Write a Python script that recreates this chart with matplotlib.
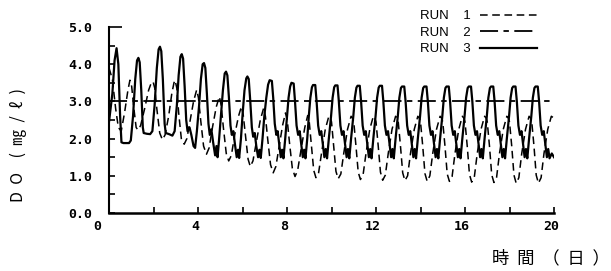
import matplotlib
matplotlib.use("Agg")
import matplotlib.pyplot as plt
from matplotlib.transforms import ScaledTranslation

# ---------------- data ----------------
run1_t = [0.0, 0.15, 0.3, 0.42, 0.55, 0.7, 0.85, 0.94, 1.02, 1.12, 1.22, 1.3, 1.42, 1.6, 1.78, 1.9, 1.98,
          2.06, 2.15, 2.28, 2.4, 2.52, 2.68, 2.82, 2.92, 2.97, 3.05, 3.13, 3.25, 3.38, 3.5, 3.65, 3.8, 3.94,
          4.02, 4.12, 4.25, 4.38, 4.5, 4.65, 4.82, 4.96, 5.04, 5.14, 5.27, 5.38, 5.5, 5.65, 5.82, 5.95,
          6.03, 6.13, 6.25, 6.35, 6.47, 6.62, 6.8, 6.95, 7.03, 7.13, 7.26, 7.38, 7.5, 7.65, 7.8, 7.93,
          8.01, 8.11, 8.24, 8.36, 8.48, 8.63, 8.8, 8.93,
          9.0, 9.1, 9.2, 9.3, 9.42, 9.55, 9.72, 9.88, 9.95,
          10.0, 10.1, 10.2, 10.3, 10.42, 10.55, 10.72, 10.88, 10.95,
          11.0, 11.1, 11.2, 11.3, 11.42, 11.55, 11.72, 11.88, 11.95,
          12.0, 12.1, 12.2, 12.3, 12.42, 12.55, 12.72, 12.88, 12.95,
          13.0, 13.1, 13.2, 13.3, 13.42, 13.55, 13.72, 13.88, 13.95,
          14.0, 14.1, 14.2, 14.3, 14.42, 14.55, 14.72, 14.88, 14.95,
          15.0, 15.1, 15.2, 15.3, 15.42, 15.55, 15.72, 15.88, 15.95,
          16.0, 16.1, 16.2, 16.3, 16.42, 16.55, 16.72, 16.88, 16.95,
          17.0, 17.1, 17.2, 17.3, 17.42, 17.55, 17.72, 17.88, 17.95,
          18.0, 18.1, 18.2, 18.3, 18.42, 18.55, 18.72, 18.88, 18.95,
          19.0, 19.1, 19.2, 19.3, 19.42, 19.55, 19.72, 19.88, 20.0]
run1_v = [3.9, 3.6, 2.8, 2.3, 2.2, 2.7, 3.3, 3.57, 3.4, 2.8, 2.3, 2.23, 2.35, 2.8, 3.3, 3.5, 3.53,
          3.35, 2.8, 2.15, 1.97, 2.1, 2.6, 3.2, 3.5, 3.57, 3.35, 2.7, 2.0, 1.85, 2.0, 2.5, 3.0, 3.31,
          3.1, 2.5, 1.8, 1.58, 1.75, 2.3, 2.85, 3.13, 2.9, 2.3, 1.6, 1.4, 1.55, 2.1, 2.6, 2.86,
          2.65, 2.1, 1.45, 1.25, 1.4, 1.9, 2.5, 2.82, 2.6, 2.0, 1.3, 1.08, 1.25, 1.8, 2.35, 2.69,
          2.5, 1.9, 1.2, 0.98, 1.15, 1.7, 2.3, 2.62,
          2.45, 1.8, 1.15, 0.95, 1.08, 1.6, 2.25, 2.6, 2.55,
          2.45, 1.8, 1.12, 0.92, 1.05, 1.6, 2.25, 2.6, 2.55,
          2.45, 1.8, 1.1, 0.9, 1.03, 1.6, 2.25, 2.6, 2.55,
          2.45, 1.8, 1.1, 0.88, 1.02, 1.6, 2.25, 2.6, 2.55,
          2.45, 1.8, 1.08, 0.87, 1.0, 1.6, 2.25, 2.6, 2.55,
          2.45, 1.8, 1.06, 0.85, 1.0, 1.6, 2.25, 2.6, 2.55,
          2.45, 1.8, 1.05, 0.85, 0.98, 1.6, 2.25, 2.6, 2.55,
          2.45, 1.8, 1.04, 0.83, 0.97, 1.6, 2.25, 2.6, 2.55,
          2.45, 1.8, 1.03, 0.82, 0.96, 1.6, 2.25, 2.6, 2.55,
          2.45, 1.8, 1.02, 0.8, 0.95, 1.6, 2.25, 2.6, 2.55,
          2.45, 1.8, 1.02, 0.8, 0.95, 1.6, 2.25, 2.6, 2.55]

run2_t = [0.0, 20.0]
run2_v = [3.0, 3.0]

run3_t = [0.0, 0.15, 0.25, 0.34, 0.42, 0.5, 0.56, 0.65, 0.9, 0.98,
          1.08, 1.18, 1.26, 1.32, 1.38, 1.45, 1.52, 1.56, 1.7, 1.85, 1.95,
          2.05, 2.15, 2.23, 2.29, 2.35, 2.42, 2.5, 2.55, 2.7, 2.85, 2.95,
          3.05, 3.13, 3.21, 3.27, 3.33, 3.4, 3.47, 3.53, 3.62, 3.7, 3.8, 3.87, 3.95,
          4.05, 4.13, 4.21, 4.27, 4.33, 4.4, 4.47, 4.53, 4.6, 4.68, 4.77, 4.83, 4.88, 4.95,
          5.04, 5.12, 5.2, 5.26, 5.32, 5.39, 5.46, 5.52, 5.59, 5.66, 5.74, 5.8, 5.85, 5.93,
          6.01, 6.09, 6.17, 6.22, 6.28, 6.35, 6.42, 6.48, 6.55, 6.62, 6.7, 6.76, 6.82, 6.9,
          6.98, 7.07, 7.15, 7.22, 7.32, 7.38, 7.45, 7.52, 7.58, 7.65, 7.72, 7.78, 7.84, 7.92,
          8.0, 8.07, 8.14, 8.2, 8.3, 8.36, 8.43, 8.5, 8.57, 8.64, 8.71, 8.77, 8.83, 8.91,
          8.98, 9.05, 9.12, 9.17, 9.27, 9.33, 9.4, 9.47, 9.54, 9.61, 9.68, 9.74, 9.8, 9.88,
          9.98, 10.05, 10.12, 10.17, 10.27, 10.33, 10.4, 10.47, 10.54, 10.61, 10.68, 10.74, 10.8, 10.88,
          10.98, 11.05, 11.12, 11.17, 11.27, 11.33, 11.4, 11.47, 11.54, 11.61, 11.68, 11.74, 11.8, 11.88,
          11.98, 12.05, 12.12, 12.17, 12.27, 12.33, 12.4, 12.47, 12.54, 12.61, 12.68, 12.74, 12.8, 12.88,
          12.98, 13.05, 13.12, 13.17, 13.27, 13.33, 13.4, 13.47, 13.54, 13.61, 13.68, 13.74, 13.8, 13.88,
          13.98, 14.05, 14.12, 14.17, 14.27, 14.33, 14.4, 14.47, 14.54, 14.61, 14.68, 14.74, 14.8, 14.88,
          14.98, 15.05, 15.12, 15.17, 15.27, 15.33, 15.4, 15.47, 15.54, 15.61, 15.68, 15.74, 15.8, 15.88,
          15.98, 16.05, 16.12, 16.17, 16.27, 16.33, 16.4, 16.47, 16.54, 16.61, 16.68, 16.74, 16.8, 16.88,
          16.98, 17.05, 17.12, 17.17, 17.27, 17.33, 17.4, 17.47, 17.54, 17.61, 17.68, 17.74, 17.8, 17.88,
          17.98, 18.05, 18.12, 18.17, 18.27, 18.33, 18.4, 18.47, 18.54, 18.61, 18.68, 18.74, 18.8, 18.88,
          18.98, 19.05, 19.12, 19.17, 19.27, 19.33, 19.4, 19.47, 19.54, 19.61, 19.68, 19.74, 19.8, 19.9, 20.0]
run3_v = [2.45, 3.2, 4.1, 4.43, 4.0, 2.6, 1.9, 1.88, 1.88, 1.95,
          2.6, 3.6, 4.1, 4.17, 4.05, 3.3, 2.3, 2.15, 2.13, 2.12, 2.2,
          2.9, 3.9, 4.4, 4.47, 4.35, 3.6, 2.4, 2.15, 2.12, 2.08, 2.2,
          2.9, 3.7, 4.2, 4.27, 4.15, 3.4, 2.5, 2.2, 2.3, 2.1, 1.8, 1.75, 2.2,
          2.9, 3.6, 4.0, 4.03, 3.9, 3.2, 2.4, 2.1, 2.25, 1.9, 1.55, 1.8, 1.5, 2.0,
          2.7, 3.3, 3.75, 3.8, 3.7, 3.1, 2.35, 2.1, 2.2, 1.85, 1.5, 1.7, 1.48, 2.0,
          2.7, 3.3, 3.62, 3.67, 3.6, 3.0, 2.3, 2.05, 2.15, 1.8, 1.5, 1.7, 1.48, 2.0,
          2.6, 3.1, 3.45, 3.57, 3.55, 3.1, 2.4, 2.1, 2.2, 1.85, 1.5, 1.7, 1.47, 2.0,
          2.6, 3.1, 3.4, 3.5, 3.48, 3.0, 2.35, 2.1, 2.2, 1.85, 1.5, 1.7, 1.47, 2.0,
          2.6, 3.1, 3.38, 3.44, 3.44, 3.0, 2.35, 2.1, 2.2, 1.85, 1.5, 1.72, 1.47, 2.0,
          2.6, 3.1, 3.38, 3.43, 3.43, 3.0, 2.35, 2.1, 2.2, 1.85, 1.5, 1.72, 1.47, 2.0,
          2.6, 3.1, 3.37, 3.42, 3.42, 3.0, 2.35, 2.1, 2.2, 1.85, 1.5, 1.72, 1.47, 2.0,
          2.6, 3.1, 3.37, 3.42, 3.42, 3.0, 2.35, 2.1, 2.2, 1.85, 1.5, 1.72, 1.47, 2.0,
          2.6, 3.1, 3.36, 3.4, 3.4, 3.0, 2.35, 2.1, 2.2, 1.85, 1.5, 1.72, 1.47, 2.0,
          2.6, 3.1, 3.36, 3.4, 3.4, 3.0, 2.35, 2.1, 2.2, 1.85, 1.5, 1.72, 1.47, 2.0,
          2.6, 3.1, 3.36, 3.4, 3.4, 3.0, 2.35, 2.1, 2.2, 1.85, 1.5, 1.72, 1.47, 2.0,
          2.6, 3.1, 3.36, 3.4, 3.4, 3.0, 2.35, 2.1, 2.2, 1.85, 1.5, 1.72, 1.47, 2.0,
          2.6, 3.1, 3.36, 3.4, 3.4, 3.0, 2.35, 2.1, 2.2, 1.85, 1.5, 1.72, 1.47, 2.0,
          2.6, 3.1, 3.36, 3.4, 3.4, 3.0, 2.35, 2.1, 2.2, 1.85, 1.5, 1.72, 1.47, 2.0,
          2.6, 3.1, 3.36, 3.4, 3.4, 3.0, 2.35, 2.1, 2.2, 1.85, 1.5, 1.72, 1.47, 1.6, 1.5]

series_labels = ["RUN    1", "RUN    2", "RUN    3"]
x_ticks = [0, 4, 8, 12, 16, 20]
x_ticklabels = ["0", "4", "8", "12", "16", "20"]
y_ticks = [0.0, 1.0, 2.0, 3.0, 4.0, 5.0]
y_ticklabels = ["0.0", "1.0", "2.0", "3.0", "4.0", "5.0"]
x_label = "時  間  （  日  ）"
y_label = "D  O    (  ㎎  /  ℓ  )"

# ---------------- figure ----------------
W, H = 611, 271
fig = plt.figure(figsize=(W / 100, H / 100), dpi=100)
ax = fig.add_axes([109 / W, 1 - 213 / H, 445 / W, 186 / H])

l1, = ax.plot(run1_t, run1_v, color="black", lw=1.1, linestyle=(0, (5, 3)))
l2, = ax.plot(run2_t, run2_v, color="black", lw=1.3, linestyle=(0, (10, 3, 3, 3)))
l3, = ax.plot(run3_t, run3_v, color="black", lw=1.6, linestyle="-")

ax.set_xlim(0, 20)
ax.set_ylim(0, 5)
ax.spines["top"].set_visible(False)
ax.spines["right"].set_visible(False)
ax.spines["left"].set_linewidth(1.5)
ax.spines["bottom"].set_linewidth(1.8)

tick_font = {"family": "DejaVu Sans Mono", "weight": "bold", "size": 9.5}
ax.set_xticks(x_ticks)
ax.set_xticklabels(x_ticklabels, fontdict=tick_font)
ax.set_xticks([2, 6, 10, 14, 18], minor=True)
ax.set_yticks(y_ticks)
ax.set_yticklabels(y_ticklabels, fontdict=tick_font)
ax.set_yticks([0.5, 1.5, 2.5, 3.5, 4.5], minor=True)
ax.tick_params(axis="both", which="both", direction="in", length=4, width=1.2, color="black")
ax.tick_params(axis="y", which="major", pad=12)
ax.tick_params(axis="x", which="major", pad=5)
ax.yaxis.get_major_ticks()[-1].tick1line.set_markersize(9)

for lab in ax.get_xticklabels():
    dx = -12 if lab.get_text() == "0" else -3
    lab.set_transform(lab.get_transform() + ScaledTranslation(dx / 100, 0, fig.dpi_scale_trans))

fig.text(18 / W, 1 - 145 / H, y_label, rotation=90, ha="center", va="center",
         fontsize=11.5, family=["Noto Sans CJK JP", "DejaVu Sans"])
fig.text(551 / W, 1 - 258 / H, x_label, ha="center", va="center",
         fontsize=12.5, family=["Noto Sans CJK JP", "DejaVu Sans"])

ax.legend([l1, l2, l3], series_labels, loc="upper left",
          bbox_to_anchor=(420 / W, 1 - 10 / H), bbox_transform=fig.transFigure,
          frameon=False, markerfirst=False, borderpad=0, borderaxespad=0,
          handlelength=4.3, handletextpad=0.7, labelspacing=0.33,
          prop={"family": "Liberation Sans", "size": 9.5})

fig.savefig("out.png", dpi=100, facecolor="white")
